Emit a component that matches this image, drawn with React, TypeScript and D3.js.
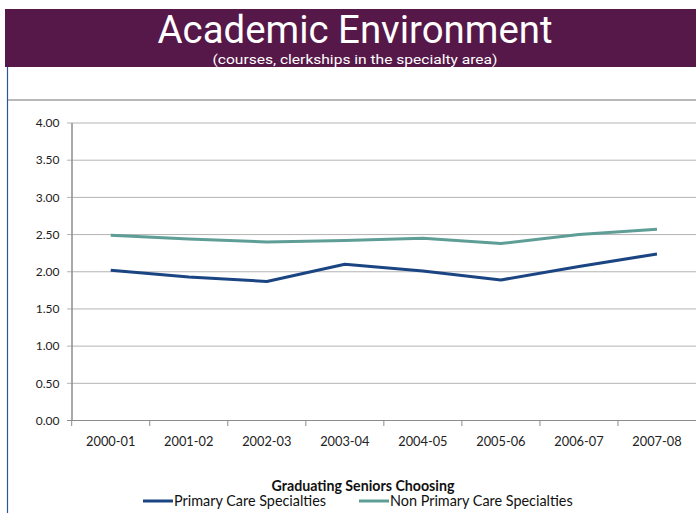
import React from "react";
import * as d3 from "d3";

const categories = ["2000-01", "2001-02", "2002-03", "2003-04", "2004-05", "2005-06", "2006-07", "2007-08"];
const primaryCare = [2.02, 1.93, 1.87, 2.1, 2.01, 1.89, 2.07, 2.24];
const nonPrimaryCare = [2.49, 2.44, 2.4, 2.42, 2.45, 2.38, 2.5, 2.57];
const yTicks = [0, 0.5, 1, 1.5, 2, 2.5, 3, 3.5, 4];
const seriesNames = ["Primary Care Specialties", "Non Primary Care Specialties"];
const seriesColors = ["#1B4582", "#5E9E97"];

export default function App() {
  const W = 696, H = 513;
  const x = d3.scaleBand<string>().domain(categories).range([71.7, 696]);
  const y = d3.scaleLinear().domain([0, 4]).range([420.5, 123]);
  const line = d3
    .line<number>()
    .x((_, i) => (x(categories[i]) as number) + x.bandwidth() / 2)
    .y((d) => y(d));
  const series = [primaryCare, nonPrimaryCare];
  const tickFont = "Lato, 'Open Sans', sans-serif";
  const titleFont = "Roboto, 'Liberation Sans', sans-serif";
  const sx = 0.8;
  return (
    <svg width={W} height={H} style={{ position: "absolute", left: 0, top: 0, background: "#fff" }}>
      <rect x={0} y={0} width={W} height={H} fill="#fff" />
      <rect x={5} y={9} width={W - 5} height={58} fill="#561749" />
      <text transform={`translate(355,43) scale(${sx},1)`} textAnchor="middle" fill="#fff" fontFamily={titleFont} fontWeight={400} fontSize={38.5} textLength={395 / sx} lengthAdjust="spacingAndGlyphs">
        Academic Environment
      </text>
      <text transform={`translate(355,63.5) scale(0.85,1)`} textAnchor="middle" fill="#fff" fontFamily={titleFont} fontSize={13} textLength={285 / 0.85} lengthAdjust="spacingAndGlyphs">
        (courses, clerkships in the specialty area)
      </text>
      <line x1={7.5} y1={67} x2={7.5} y2={H} stroke="#2E5597" strokeWidth={1.2} />
      <line x1={8} y1={100} x2={W} y2={100} stroke="#A0A0A0" strokeWidth={1.5} />
      {yTicks.map((t) => (
        <g key={t}>
          <line x1={67} x2={W} y1={y(t)} y2={y(t)} stroke={t === 0 ? "#8C8C8C" : "#B4B4B4"} strokeWidth={1} />
          <text x={59.5} y={y(t) + 4.3} textAnchor="end" fontFamily={tickFont} fontSize={12} fill="#222">
            {t.toFixed(2)}
          </text>
        </g>
      ))}
      <line x1={72} x2={72} y1={123} y2={421} stroke="#8C8C8C" strokeWidth={1.5} />
      {categories.map((c) => (
        <g key={c}>
          <line x1={x(c) as number} x2={x(c) as number} y1={420.5} y2={426} stroke="#8C8C8C" />
          <text x={(x(c) as number) + x.bandwidth() / 2} y={445.5} textAnchor="middle" fontFamily={tickFont} fontSize={12.8} fill="#222">
            {c}
          </text>
        </g>
      ))}
      {series.map((s, i) => (
        <path key={i} d={line(s) || ""} fill="none" stroke={seriesColors[i]} strokeWidth={3} strokeLinejoin="round" />
      ))}
      <text x={363} y={491} textAnchor="middle" fontFamily={tickFont} fontWeight="bold" fontSize={14.2} fill="#111">
        Graduating Seniors Choosing
      </text>
      {seriesNames.map((n, i) => {
        const lx = i === 0 ? 143 : 359;
        return (
          <g key={n}>
            <line x1={lx} x2={lx + 30} y1={501} y2={501} stroke={seriesColors[i]} strokeWidth={3} />
            <text x={lx + 31} y={505.5} fontFamily={tickFont} fontSize={14.4} fill="#111">
              {n}
            </text>
          </g>
        );
      })}
    </svg>
  );
}
